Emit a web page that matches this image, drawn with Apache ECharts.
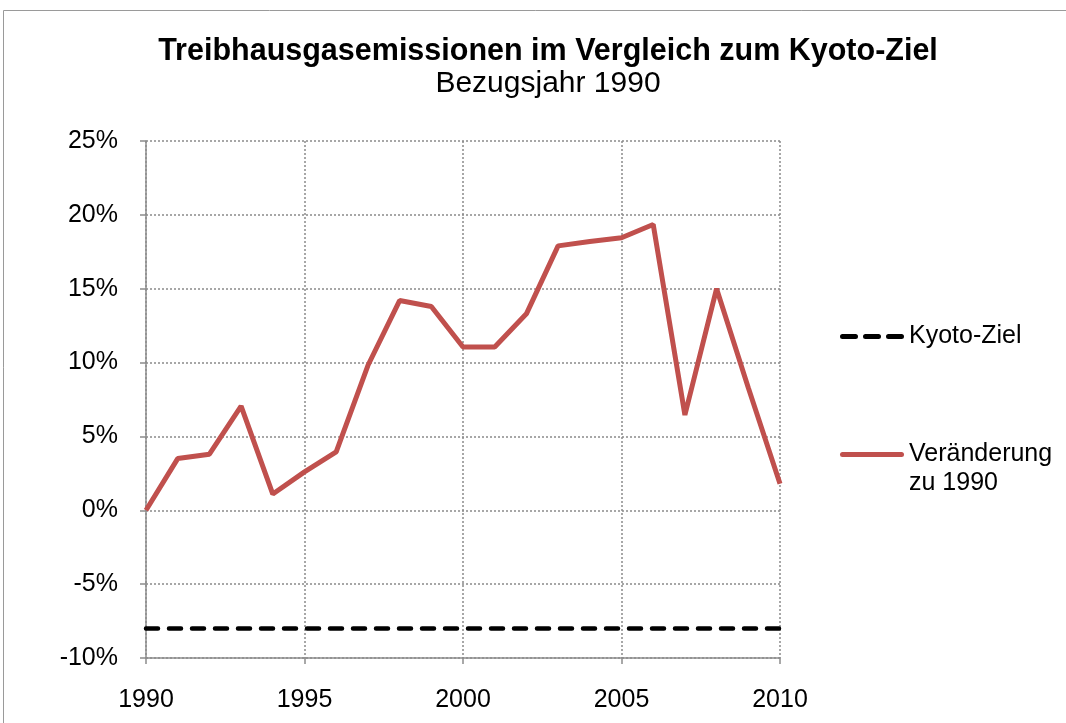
<!DOCTYPE html>
<html>
<head>
<meta charset="utf-8">
<script src="https://cdn.jsdelivr.net/npm/echarts@6/dist/echarts.min.js"></script>
<style>html,body{margin:0;padding:0;background:#fff}#c{width:1066px;height:723px}</style>
</head>
<body>
<div id="c"></div>
<script>
const years = [1990,1991,1992,1993,1994,1995,1996,1997,1998,1999,2000,2001,2002,2003,2004,2005,2006,2007,2008,2009,2010];
const changes = [0,3.5,3.8,7.05,1.1,2.6,3.95,9.8,14.2,13.8,11.05,11.05,13.3,17.9,18.2,18.45,19.35,6.45,15.0,8.3,1.8];
const kyotoTarget = [-8,-8,-8,-8,-8,-8,-8,-8,-8,-8,-8,-8,-8,-8,-8,-8,-8,-8,-8,-8,-8];
const titleText = 'Treibhausgasemissionen im Vergleich zum Kyoto-Ziel';
const subtitleText = 'Bezugsjahr 1990';
const seriesNames = ['Kyoto-Ziel', 'Veränderung\nzu 1990'];

const chart = echarts.init(document.getElementById('c'));
const font = '"Liberation Sans", Arial, sans-serif';
const dashIcon = 'path://M2.5,0H15.5A2.5,2.5 0 0 1 15.5,5H2.5A2.5,2.5 0 0 1 2.5,0Z' +
  'M25.5,0H38.5A2.5,2.5 0 0 1 38.5,5H25.5A2.5,2.5 0 0 1 25.5,0Z' +
  'M48.5,0H61.5A2.5,2.5 0 0 1 61.5,5H48.5A2.5,2.5 0 0 1 48.5,0Z';
const solidIcon = 'path://M2.5,0H61.5A2.5,2.5 0 0 1 61.5,5H2.5A2.5,2.5 0 0 1 2.5,0Z';
chart.setOption({
  backgroundColor: '#fff',
  animation: false,
  title: {
    text: titleText,
    subtext: subtitleText,
    left: 543, top: 31, textAlign: 'center', itemGap: 2,
    textStyle: {fontFamily: font, fontSize: 30.5, fontWeight: 'bold', color: '#000'},
    subtextStyle: {fontFamily: font, fontSize: 30, color: '#000'}
  },
  graphic: [{type: 'rect', shape: {x: 3.5, y: 10.5, width: 1100, height: 800}, style: {fill: 'none', stroke: '#9a9a9a', lineWidth: 1}, silent: true}],
  grid: {left: 146, right: 286, top: 141, bottom: 65},
  legend: {
    orient: 'vertical', left: 835, top: 317, itemGap: 60,
    itemWidth: 64, itemHeight: 5,
    data: [{name: seriesNames[0], icon: dashIcon}, {name: seriesNames[1], icon: solidIcon}],
    textStyle: {fontFamily: font, fontSize: 25, color: '#000', lineHeight: 29},
    formatter: function (n) { return n.indexOf('\n') >= 0 ? ' \n' + n : n; }
  },
  xAxis: {
    type: 'value', min: 1990, max: 2010, interval: 5,
    axisLine: {onZero: false, lineStyle: {color: '#8c8c8c', width: 1.5}},
    axisTick: {show: true, length: 6, lineStyle: {color: '#8c8c8c', width: 1.5}},
    axisLabel: {margin: 30, fontFamily: font, fontSize: 25, color: '#000', formatter: v => String(v)},
    splitLine: {show: true, lineStyle: {color: '#8a8a8a', type: [2, 2], width: 1.5}}
  },
  yAxis: {
    type: 'value', min: -10, max: 25, interval: 5,
    axisLine: {show: true, lineStyle: {color: '#8c8c8c', width: 1.5}},
    axisTick: {show: true, length: 6, lineStyle: {color: '#8c8c8c', width: 1.5}},
    axisLabel: {margin: 28, fontFamily: font, fontSize: 25, color: '#000', formatter: v => v + '%'},
    splitLine: {show: true, lineStyle: {color: '#8a8a8a', type: [2, 2], width: 1.5}}
  },
  series: [
    {
      name: seriesNames[0], type: 'line', symbol: 'none', z: 3,
      data: years.map((y, i) => [y, kyotoTarget[i]]),
      lineStyle: {color: '#000', width: 4.5, type: [12, 11], cap: 'round'},
      itemStyle: {color: '#000'}
    },
    {
      name: seriesNames[1], type: 'line', symbol: 'none', z: 4,
      data: years.map((y, i) => [y, changes[i]]),
      lineStyle: {color: '#c0504d', width: 5},
      itemStyle: {color: '#c0504d'}
    }
  ]
});
</script>
</body>
</html>
